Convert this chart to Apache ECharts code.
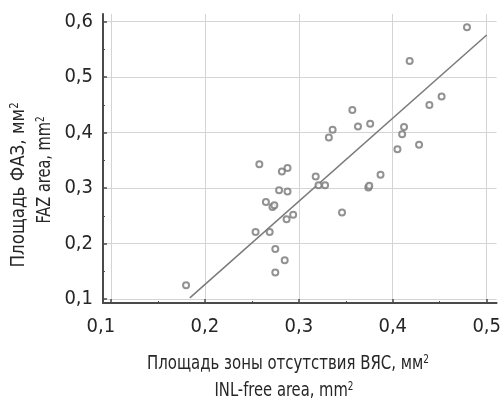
<!DOCTYPE html>
<html>
<head>
<meta charset="utf-8">
<script src="https://cdn.jsdelivr.net/npm/echarts@6/dist/echarts.min.js"></script>
<style>
  html, body { margin: 0; background: #fff; }
  #chart { width: 504px; height: 400px; }
</style>
</head>
<body>
<div id="chart"></div>
<script>
// точки: площадь зоны без ВЯС (x) и площадь ФАЗ (y), мм2
const xValues = [0.180, 0.254, 0.269, 0.265, 0.272, 0.274, 0.279, 0.288, 0.287, 0.294, 0.275, 0.285,
  0.275, 0.258, 0.282, 0.288, 0.318, 0.321, 0.328, 0.332, 0.336, 0.357, 0.363, 0.376,
  0.374, 0.375, 0.387, 0.346, 0.405, 0.410, 0.412, 0.428, 0.439, 0.452, 0.418, 0.479]
const yValues = [0.125, 0.221, 0.221, 0.275, 0.266, 0.269, 0.296, 0.294, 0.244, 0.252, 0.190, 0.170,
  0.148, 0.343, 0.330, 0.336, 0.321, 0.305, 0.305, 0.391, 0.405, 0.441, 0.411, 0.416,
  0.301, 0.304, 0.324, 0.256, 0.370, 0.397, 0.410, 0.378, 0.450, 0.465, 0.529, 0.590]
// линия регрессии
const fitX = [0.184, 0.5]
const fitY = [0.102, 0.576]
// деления осей
const xTicks = [0.1, 0.2, 0.3, 0.4, 0.5]
const xMinorTicks = [0.15, 0.25, 0.35, 0.45]
const yTicks = [0.1, 0.2, 0.3, 0.4, 0.5, 0.6]
const yMinorTicks = [0.15, 0.25, 0.35, 0.45, 0.55]

const FONT = "'Liberation Sans Narrow', 'DejaVu Sans Condensed', 'Roboto Condensed', sans-serif"
const AXIS_COLOR = '#4a4a4a'
const TEXT_COLOR = '#262626'

function fmt(v) {
  return Number(v).toFixed(1).replace('.', ',')
}

const chart = echarts.init(document.getElementById('chart'))

const mainAxis = (ticks) => ({
  type: 'value',
  axisLine: { show: true, onZero: false, lineStyle: { color: AXIS_COLOR, width: 2 } },
  axisTick: { show: true, inside: true, length: 4, customValues: ticks, lineStyle: { color: AXIS_COLOR, width: 1.5 } },
  splitLine: { show: true, lineStyle: { color: '#d4d4d4', width: 1 } }
})

const minorAxis = (ticks) => ({
  type: 'value',
  axisLine: { show: false },
  axisLabel: { show: false },
  splitLine: { show: false },
  axisTick: { show: true, inside: true, length: 2, customValues: ticks, lineStyle: { color: AXIS_COLOR, width: 1 } }
})

const labelFont = { fontFamily: FONT, fontSize: 20, color: TEXT_COLOR }

// подпись с верхним индексом
function titleText(text, x, y, rotation, scale) {
  return {
    type: 'text', x: x, y: y, rotation: rotation, scaleX: scale,
    style: {
      text: '{a|' + text + '}{s|2}',
      align: 'center', verticalAlign: 'middle',
      rich: {
        a: { fontFamily: FONT, fontSize: 20, fill: TEXT_COLOR },
        s: { fontFamily: FONT, fontSize: 12, fill: TEXT_COLOR, verticalAlign: 'top' }
      }
    }
  }
}

const option = {
  animation: false,
  backgroundColor: '#fff',
  grid: { left: 103, right: 2, top: 14, bottom: 97 },
  xAxis: [
    Object.assign(mainAxis(xTicks), {
      min: 0.0916, max: 0.5105, position: 'bottom',
      axisLabel: Object.assign({}, labelFont, {
        margin: 14,
        customValues: xTicks,
        formatter: function (v) {
          return v < 0.15 ? '{f|' + fmt(v) + '}' : fmt(v)
        },
        rich: { f: Object.assign({}, labelFont, { padding: [0, 20, 0, 0] }) }
      })
    }),
    Object.assign(minorAxis(xMinorTicks), { min: 0.0916, max: 0.5105, position: 'bottom' })
  ],
  yAxis: [
    Object.assign(mainAxis(yTicks), {
      min: 0.0928, max: 0.6139, position: 'left',
      axisLabel: Object.assign({}, labelFont, {
        margin: 10,
        customValues: yTicks,
        formatter: fmt
      })
    }),
    Object.assign(minorAxis(yMinorTicks), { min: 0.0928, max: 0.6139, position: 'left' })
  ],
  series: [
    {
      type: 'line',
      data: fitX.map((x, i) => [x, fitY[i]]),
      symbol: 'none',
      lineStyle: { color: '#7a7a7a', width: 1.5 },
      z: 2
    },
    {
      type: 'scatter',
      data: xValues.map((x, i) => [x, yValues[i]]),
      symbol: 'emptyCircle',
      symbolSize: 6,
      itemStyle: { color: '#777777', borderWidth: 1.1 },
      z: 3
    }
  ],
  graphic: [
    titleText('Площадь зоны отсутствия ВЯС, мм', 288, 364, 0, 0.83),
    titleText('INL-free area, mm', 284, 391, 0, 0.82),
    titleText('Площадь ФАЗ, мм', 19, 185, Math.PI / 2, 0.93),
    titleText('FAZ area, mm', 45, 170, Math.PI / 2, 0.81)
  ]
}

chart.setOption(option)
window.addEventListener('resize', function () {
  chart.resize()
})
</script>
</body>
</html>
